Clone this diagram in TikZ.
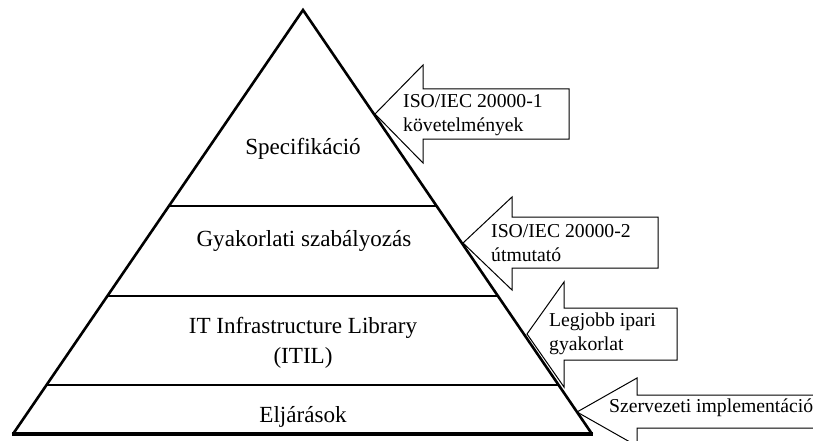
\documentclass[tikz,border=0pt]{standalone}
\usepackage{fontspec}
\setmainfont{Liberation Serif}
\usetikzlibrary{calc}
\begin{document}
\begin{tikzpicture}[x=1pt,y=-1pt,
  pyr/.style={line width=2.6pt,line join=miter},
  arr/.style={draw=black,fill=white,line width=1pt,line join=miter},
  big/.style={font=\fontsize{23.1}{30}\selectfont,align=center,inner sep=0pt},
  small/.style={font=\fontsize{19.7}{24}\selectfont,align=left,inner sep=0pt,anchor=west}]
\useasboundingbox (0,0) rectangle (813,441);
% arrows
\draw[arr] (375,114) -- (423,65) -- (423,89) -- (569,89) -- (569,139) -- (423,139) -- (423,163) -- cycle;
\draw[arr] (463,243) -- (512,197) -- (512,217) -- (658,217) -- (658,268) -- (512,268) -- (512,290) -- cycle;
\draw[arr] (527,334) -- (564,282) -- (564,308) -- (677,308) -- (677,360) -- (564,360) -- (564,387) -- cycle;
\draw[arr] (577,412) -- (637,378) -- (637,395) -- (830,395) -- (830,428) -- (637,428) -- (637,446) -- cycle;
% pyramid
\coordinate (A) at (303,10);
\coordinate (L) at (13,434);
\coordinate (R) at (592,434);
\coordinate (l1) at ($(A)!{196/424}!(L)$);
\coordinate (r1) at ($(A)!{196/424}!(R)$);
\coordinate (l2) at ($(A)!{286/424}!(L)$);
\coordinate (r2) at ($(A)!{286/424}!(R)$);
\coordinate (l3) at ($(A)!{375/424}!(L)$);
\coordinate (r3) at ($(A)!{375/424}!(R)$);
\draw[pyr] (L) -- (A) -- (R);
\draw[line width=4pt] ($(L)+(-1,0)$) -- ($(R)+(1,0)$);
\draw[pyr] (l1) -- (r1);
\draw[pyr] (l2) -- (r2);
\draw[pyr] (l3) -- (r3);
% texts
\node[big] (spec) at (303,149) {Specifikáció};
\node[big] (gyak) at (304,241) {Gyakorlati szabályozás};
\node[big] (itil) at (303,343) {IT Infrastructure Library\\(ITIL)};
\node[big] (elj) at (303,417) {Eljárások};
\node[small] (t1) at (403,115) {ISO/IEC 20000-1\\követelmények};
\node[small] (t2) at (491,243.5) {ISO/IEC 20000-2\\útmutató};
\node[small] (t3) at (549,333.5) {Legjobb ipari\\gyakorlat};
\node[small] (t4) at (609,408) {Szervezeti implementáció};
\end{tikzpicture}
\end{document}
